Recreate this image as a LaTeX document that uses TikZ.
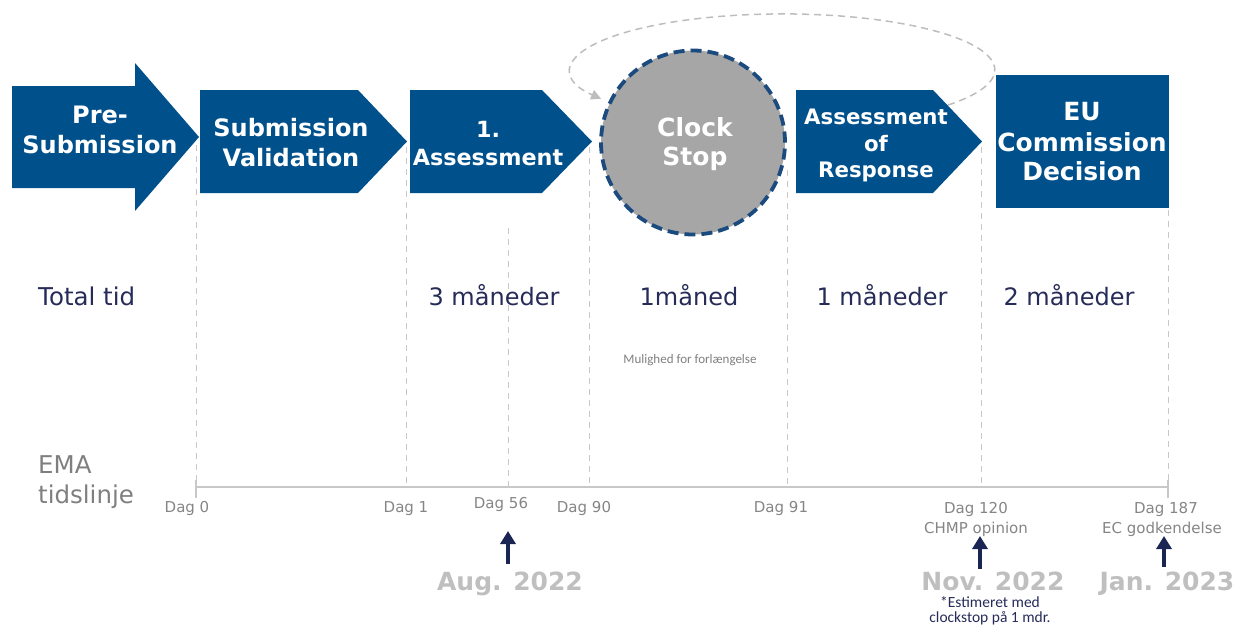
\documentclass[tikz,border=0pt]{standalone}
\usepackage{fontspec}
\setmainfont{DejaVu Sans}
\newfontfamily\carlito{Carlito}
\usetikzlibrary{arrows.meta}
\definecolor{boxblue}{HTML}{00508C}
\definecolor{circfill}{HTML}{A6A6A6}
\definecolor{circline}{HTML}{1A4A7E}
\definecolor{navytext}{HTML}{262B58}
\definecolor{navyarrow}{HTML}{1B2554}
\definecolor{graytext}{HTML}{7F7F7F}
\definecolor{daggray}{HTML}{858585}
\definecolor{monthgray}{HTML}{BFBFBF}
\definecolor{guidegray}{HTML}{C8C8C8}
\definecolor{loopgray}{HTML}{BDBDBD}
\begin{document}
\begin{tikzpicture}[x=1pt,y=-1pt,
  boxshape/.style={fill=boxblue, draw=none},
  btxt/.style={text=white, anchor=base, inner sep=0pt, font=\bfseries\fontsize{#1}{#1}\selectfont},
  guide/.style={draw=guidegray, line width=1pt, dash pattern=on 6pt off 5pt},
  axisline/.style={draw=guidegray, line width=2pt},
  tick/.style={draw=guidegray, line width=1.2pt},
  durtext/.style={text=navytext, anchor=base, inner sep=0pt, font=\fontsize{24}{28}\selectfont},
  ematext/.style={text=graytext, anchor=base west, inner sep=0pt, font=\fontsize{24.5}{28}\selectfont},
  dagtext/.style={text=daggray, anchor=base, inner sep=0pt, font=\fontsize{15}{18}\selectfont},
  monthtext/.style={text=monthgray, anchor=base, inner sep=0pt, font=\bfseries\fontsize{25}{30}\selectfont},
  notetext/.style={text=navytext, anchor=base, inner sep=0pt, font=\carlito\fontsize{15.5}{18}\selectfont},
  smallnote/.style={text=graytext, anchor=base, inner sep=0pt, font=\carlito\fontsize{13}{16}\selectfont},
  uparrow/.style={draw=navyarrow, line width=4.5pt, -{Triangle[length=13pt,width=15pt]}},
  looparrow/.style={draw=loopgray, line width=1.5pt, dash pattern=on 7pt off 5pt, -{Triangle[length=10pt,width=10pt]}}
]
\useasboundingbox (0,0) rectangle (1237,624);

% guide lines
\draw[guide] (196,145) -- (196,487);
\draw[guide] (406,147) -- (406,487);
\draw[guide] (508,228) -- (508,487);
\draw[guide] (589,147) -- (589,487);
\draw[guide] (787,170) -- (787,484);
\draw[guide] (981,147) -- (981,484);
\draw[guide] (1168,210) -- (1168,480);

% axis
\draw[axisline] (196,487) -- (1168,487);
\draw[tick] (196,480) -- (196,498);
\draw[tick] (1168,480) -- (1168,498);

% process shapes
\fill[boxshape] (12,86) -- (135,86) -- (135,63) -- (199,137) -- (135,211) -- (135,188) -- (12,188) -- cycle;
\fill[boxshape] (200,90) -- (358,90) -- (407,141.5) -- (358,193) -- (200,193) -- cycle;
\fill[boxshape] (410,90) -- (542,90) -- (592,141.5) -- (542,193) -- (410,193) -- cycle;
\fill[boxshape] (796,90) -- (933,90) -- (982,141.5) -- (933,193) -- (796,193) -- cycle;
\fill[boxshape] (996,75) rectangle (1169,208);

\node[circle, minimum size=184pt, inner sep=0pt, fill=circfill, draw=circline, line width=3.8pt,
      dash pattern=on 11pt off 6pt] (clock) at (693,142.5) {};

% box texts
\node[btxt=24] (pre1) at (100,123) {Pre-};
\node[btxt=24] (pre2) at (100,153) {Submission};
\node[btxt=24] (val1) at (291,136) {Submission};
\node[btxt=24] (val2) at (291,166) {Validation};
\node[btxt=22.3] (ass1) at (488,137) {1.};
\node[btxt=22.3] (ass2) at (488,165) {Assessment};
\node[btxt=25] (clk1) at (695,136) {Clock};
\node[btxt=25] (clk2) at (695,165) {Stop};
\node[btxt=21.3] (resp1) at (876,124) {Assessment};
\node[btxt=21.3] (resp2) at (876,151) {of};
\node[btxt=21.3] (resp3) at (876,177) {Response};
\node[btxt=25] (eu1) at (1082,120) {EU};
\node[btxt=25] (eu2) at (1082,151) {Commission};
\node[btxt=25] (eu3) at (1082,180) {Decision};

% loop connector
\coordinate (loopstart) at (948,105);
\draw[looparrow] (loopstart) arc[start angle=-38.8, end angle=211, x radius=212pt, y radius=56pt];

% durations
\node[ematext, text=navytext] (total) at (38,305) {Total tid};
\node[durtext] (d3) at (494,305) {3 måneder};
\node[durtext] (d1) at (689,305) {1måned};
\node[durtext] (d1b) at (882,305) {1 måneder};
\node[durtext] (d2) at (1069,305) {2 måneder};
\node[smallnote] (mul) at (690,363) {Mulighed for forlængelse};

% EMA
\node[ematext] (ema1) at (38,473) {EMA};
\node[ematext] (ema2) at (38,503) {tidslinje};

% day labels
\node[dagtext] (dag0) at (187,512) {Dag 0};
\node[dagtext] (dag1) at (406,512) {Dag 1};
\node[dagtext] (dag56) at (501,508) {Dag 56};
\node[dagtext] (dag90) at (584,512) {Dag 90};
\node[dagtext] (dag91) at (781,512) {Dag 91};
\node[dagtext] (dag120) at (976,513) {Dag 120};
\node[dagtext] (chmp) at (976,533) {CHMP opinion};
\node[dagtext] (dag187) at (1166,513) {Dag 187};
\node[dagtext] (ec) at (1162,533) {EC godkendelse};

% arrows
\coordinate (a1b) at (508,564); \coordinate (a1t) at (508,531);
\coordinate (a2b) at (980,569); \coordinate (a2t) at (980,536);
\coordinate (a3b) at (1164,567); \coordinate (a3t) at (1164,536);
\draw[uparrow] (a1b) -- (a1t);
\draw[uparrow] (a2b) -- (a2t);
\draw[uparrow] (a3b) -- (a3t);

% months
\node[monthtext] (aug) at (510,590) {Aug. 2022};
\node[monthtext] (nov) at (993,590) {Nov. 2022};
\node[monthtext] (jan) at (1167,590) {Jan. 2023};
\node[notetext] (est1) at (990,607) {*Estimeret med};
\node[notetext] (est2) at (990,622) {clockstop på 1 mdr.};
\end{tikzpicture}
\end{document}
